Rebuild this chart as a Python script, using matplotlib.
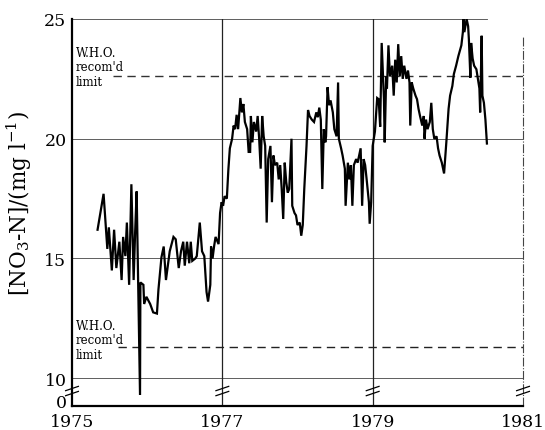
import numpy as np
import matplotlib.pyplot as plt

# nitrate-nitrogen concentration readings (decimal year, mg/l)
years = [1975.34, 1975.42, 1975.45, 1975.47, 1975.49, 1975.53, 1975.56, 1975.59, 1975.63,
         1975.66, 1975.68, 1975.71, 1975.73, 1975.76, 1975.79, 1975.82, 1975.84, 1975.86,
         1975.88, 1975.905, 1975.91, 1975.95, 1975.96, 1975.99, 1976.04, 1976.08, 1976.13,
         1976.15, 1976.19, 1976.22, 1976.25, 1976.30, 1976.35, 1976.38, 1976.42, 1976.45,
         1976.48, 1976.50, 1976.53, 1976.56, 1976.58, 1976.60, 1976.64, 1976.66, 1976.70,
         1976.73, 1976.76, 1976.79, 1976.81, 1976.84, 1976.85, 1976.87, 1976.89, 1976.91,
         1976.95, 1976.97, 1976.99, 1977.01, 1977.03, 1977.06, 1977.08, 1977.10, 1977.13,
         1977.15, 1977.17, 1977.19, 1977.21, 1977.24, 1977.26, 1977.28, 1977.30, 1977.33,
         1977.35, 1977.37, 1977.38, 1977.40, 1977.42, 1977.45, 1977.47, 1977.49, 1977.51,
         1977.53, 1977.55, 1977.57, 1977.59, 1977.61, 1977.64, 1977.66, 1977.68, 1977.70,
         1977.73, 1977.75, 1977.77, 1977.79, 1977.81, 1977.83, 1977.85, 1977.87, 1977.89,
         1977.92, 1977.93, 1977.96, 1977.98, 1978.00, 1978.03, 1978.05, 1978.07, 1978.09,
         1978.12, 1978.14, 1978.16, 1978.19, 1978.22, 1978.25, 1978.27, 1978.29, 1978.31,
         1978.33, 1978.35, 1978.37, 1978.38, 1978.40, 1978.42, 1978.44, 1978.47, 1978.49,
         1978.52, 1978.54, 1978.55, 1978.58, 1978.60, 1978.63, 1978.64, 1978.67, 1978.69,
         1978.71, 1978.73, 1978.75, 1978.78, 1978.80, 1978.82, 1978.84, 1978.86, 1978.88,
         1978.90, 1978.92, 1978.95, 1978.96, 1978.98, 1979.00, 1979.03, 1979.06, 1979.08,
         1979.10, 1979.12, 1979.15, 1979.16, 1979.18, 1979.19, 1979.21, 1979.23, 1979.26,
         1979.28, 1979.30, 1979.32, 1979.34, 1979.36, 1979.38, 1979.40, 1979.42, 1979.45,
         1979.47, 1979.49, 1979.50, 1979.52, 1979.54, 1979.57, 1979.59, 1979.61, 1979.63,
         1979.66, 1979.68, 1979.69, 1979.71, 1979.73, 1979.76, 1979.78, 1979.80, 1979.82,
         1979.85, 1979.87, 1979.89, 1979.92, 1979.95, 1979.98, 1980.01, 1980.03, 1980.06,
         1980.08, 1980.11, 1980.14, 1980.18, 1980.20, 1980.21, 1980.22, 1980.25, 1980.27,
         1980.28, 1980.30, 1980.31, 1980.33, 1980.35, 1980.38, 1980.40, 1980.42, 1980.43,
         1980.45, 1980.46, 1980.48, 1980.50, 1980.52]
nitrate = [16.2, 17.7, 16.3, 15.4, 16.3, 14.5, 16.2, 14.6, 15.7,
           14.1, 15.9, 15.1, 16.5, 13.9, 18.1, 14.1, 16.1, 17.8,
           14.0, 9.3, 14.0, 13.9, 13.1, 13.4, 13.1, 12.75, 12.7,
           13.7, 15.05, 15.5, 14.1, 15.3, 15.9, 15.8, 14.6, 15.3,
           15.7, 14.7, 15.7, 14.8, 15.7, 14.9, 15.0, 15.1, 16.5,
           15.3, 15.1, 13.6, 13.2, 13.9, 15.5, 15.0, 15.5, 15.9,
           15.6, 16.9, 17.35, 17.2, 17.6, 17.5, 18.7, 19.6, 20.0,
           20.55, 20.4, 21.0, 20.4, 21.7, 21.1, 21.45, 20.7, 20.4,
           19.45, 19.45, 20.95, 19.85, 20.7, 20.3, 20.95, 20.0, 18.75,
           20.95, 20.1, 19.7, 16.5, 19.15, 19.7, 17.35, 19.3, 18.9,
           19.0, 18.3, 18.9, 17.9, 16.65, 19.0, 18.2, 17.75, 17.9,
           20.0, 17.2, 16.9, 16.8, 16.4, 16.5, 15.95, 16.4, 17.9,
           19.7, 21.2, 20.95, 20.8, 20.7, 21.1, 20.9, 21.3, 20.8,
           17.9, 20.4, 19.85, 20.1, 22.15, 21.4, 21.6, 21.1, 20.4,
           20.1, 22.35, 20.0, 19.6, 19.3, 18.75, 17.2, 19.0, 18.3,
           18.9, 17.2, 18.9, 19.15, 19.0, 19.3, 19.6, 17.2, 19.15,
           18.9, 18.3, 17.35, 16.45, 17.35, 19.7, 20.3, 21.7, 21.65,
           20.5, 24.0, 21.65, 19.85, 22.6, 22.1, 23.9, 22.6, 23.05,
           21.8, 23.3, 22.35, 23.95, 22.6, 23.45, 22.5, 23.05, 22.5,
           22.85, 22.35, 20.55, 22.35, 22.1, 21.8, 21.65, 21.25, 20.95,
           20.55, 20.95, 20.0, 20.8, 20.4, 20.7, 21.5, 20.4, 20.0,
           20.1, 19.6, 19.3, 19.0, 18.55, 19.85, 21.25, 21.8, 22.2,
           22.7, 23.05, 23.45, 23.9, 24.45, 25.0, 24.45, 25.0, 24.7,
           24.15, 22.55, 24.0, 23.35, 23.05, 22.9, 22.5, 22.1, 21.1,
           24.3, 21.8, 21.5, 20.8, 19.8]

who_upper = 22.62
who_lower = 11.3

y_bottom = 8.84   # bottom edge stands for zero on the broken axis
year_ticks = [1975, 1977, 1979, 1981]
conc_ticks = [10, 15, 20, 25]

plt.rcParams['font.family'] = ['DejaVu Serif']
plt.rcParams['mathtext.fontset'] = 'dejavuserif'

fig = plt.figure(figsize=(5.45, 4.31), dpi=100)
ax = fig.add_axes([72 / 545, 1 - 407 / 431, (523 - 72) / 545, (407 - 20) / 431])
ax.set_xlim(1975, 1981)
ax.set_ylim(y_bottom, 25)

# grid
for c in conc_ticks:
    x_end = 1980.52 if c == 25 else 1981
    ax.plot([1975, x_end], [c, c], color='#444444', lw=0.6, zorder=1)
ax.plot([1977, 1977], [y_bottom, 25], color='#222222', lw=0.9, zorder=1)
ax.plot([1979, 1979], [y_bottom, 25], color='#222222', lw=0.9, zorder=1)
ax.plot([1981, 1981], [y_bottom, 24.25], color='#444444', lw=0.8,
        linestyle=(0, (8, 1.5, 1, 1.5)), zorder=1, clip_on=False)

# W.H.O. limits
ax.plot([1975.55, 1981], [who_upper, who_upper], color='#333333', lw=1.0,
        dashes=(6, 4), zorder=1)
ax.plot([1975.61, 1981], [who_lower, who_lower], color='#222222', lw=1.0,
        dashes=(6, 4), zorder=1)
ax.text(1975.05, 23.0, "W.H.O.\nrecom'd\nlimit", fontsize=8.5,
        va='center', ha='left', linespacing=1.15)
ax.text(1975.05, 11.6, "W.H.O.\nrecom'd\nlimit", fontsize=8.5,
        va='center', ha='left', linespacing=1.15)

ax.plot(years, nitrate, color='black', lw=1.6, zorder=3, solid_joinstyle='miter')

# axis break marks
for xb in year_ticks:
    for yc in (9.36, 9.57):
        ax.plot([xb - 0.085, xb + 0.085], [yc - 0.09, yc + 0.09], color='black',
                lw=0.9, clip_on=False, zorder=4)

for side in ('top', 'right'):
    ax.spines[side].set_visible(False)
ax.spines['left'].set_linewidth(1.6)
ax.spines['bottom'].set_linewidth(1.6)

ax.set_xticks(year_ticks)
ax.set_xticklabels([str(y) for y in year_ticks])
ax.set_yticks([9.05] + conc_ticks)
ax.set_yticklabels(['0'] + [str(c) for c in conc_ticks])
ax.tick_params(length=0, labelsize=12.5, pad=4)
ax.tick_params(axis='x', pad=5)
ax.set_ylabel(r'[NO$_3$-N]/(mg l$^{-1}$)', fontsize=15.5)
ax.yaxis.set_label_coords(-0.085, 0.525)

fig.savefig('out.png', dpi=100)
